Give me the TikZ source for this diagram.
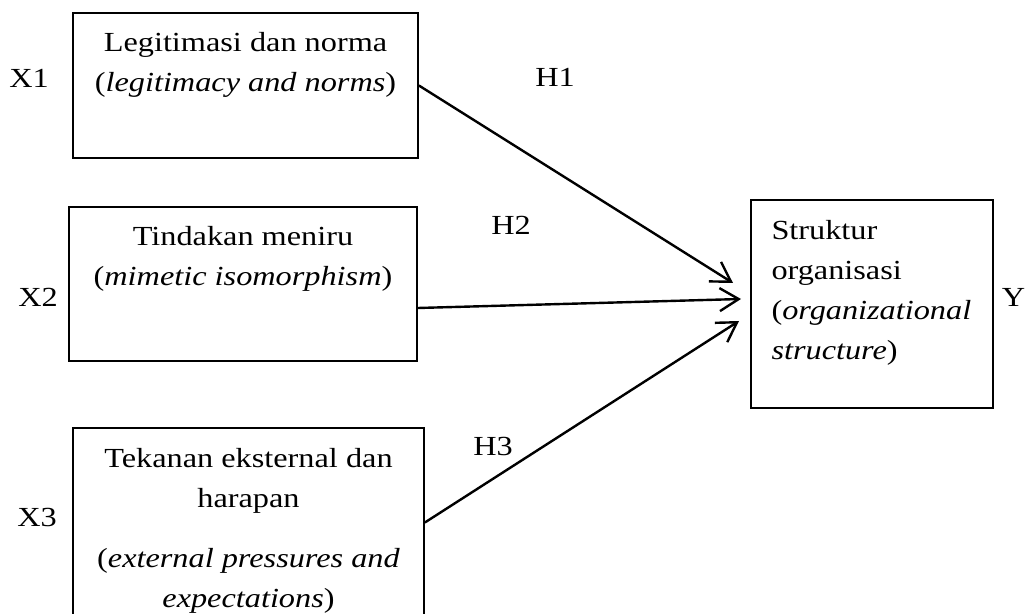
\documentclass[tikz,border=0pt]{standalone}
\usepackage{fontspec}
\setmainfont{Liberation Serif}[FakeStretch=1.17]
\usepackage{tikz}
\usetikzlibrary{positioning, arrows.meta}
\tikzset{VarBox/.style={%
    shape=rectangle,%
    draw=black,%
    line width=0.9pt,%
    inner sep=0pt,%
}}
\tikzset{BoxText/.style={%
    inner sep=0pt,%
    align=center,%
    font=\fontsize{13.8pt}{20pt}\selectfont,%
}}
\tikzset{VarLabel/.style={%
    inner sep=0pt,%
    anchor=base,%
    font=\fontsize{13.8pt}{20pt}\selectfont,%
}}
\tikzset{HypArrow/.style={%
    -{Straight Barb[length=9.5pt,width=11.5pt]},%
    line width=1.2pt,%
}}

\begin{document}
\begin{tikzpicture}[x=0.5pt, y=-0.5pt]
    \useasboundingbox (0,0) rectangle (1030,614);
    \clip (0,0) rectangle (1030,614);

    \node[VarBox, minimum width=172.5pt, minimum height=72.5pt] (b1) at (245.5,85.5) {};
    \node[VarBox, minimum width=174pt, minimum height=77pt] (b2) at (243,284) {};
    \node[VarBox, minimum width=175.5pt, minimum height=94.5pt] (b3) at (248.5,522.5) {};
    \node[VarBox, minimum width=121pt, minimum height=104pt] (bY) at (872,304) {};

    \node[BoxText, below=10pt of b1.north] (t1) {Legitimasi dan norma\\(\textit{legitimacy and norms})};
    \node[BoxText, below=10pt of b2.north] (t2) {Tindakan meniru\\(\textit{mimetic isomorphism})};
    \node[BoxText, below=10.5pt of b3.north] (t3) {Tekanan eksternal dan\\harapan\\[10pt](\textit{external pressures and}\\\textit{expectations})};
    \node[BoxText, align=left, below right=10.5pt and 10.5pt of bY.north west] (tY) {Struktur\\organisasi\\(\textit{organizational}\\\textit{structure})};

    \node[VarLabel] (x1) at (29,88) {X1};
    \node[VarLabel] (x2) at (38,307) {X2};
    \node[VarLabel] (x3) at (37,527) {X3};
    \node[VarLabel] (y) at (1013.5,307) {Y};
    \node[VarLabel] (l1) at (555,87) {H1};
    \node[VarLabel] (l2) at (511,235) {H2};
    \node[VarLabel] (l3) at (493,456) {H3};

    \coordinate (h1) at (733,283);
    \coordinate (h2) at (741,299);
    \coordinate (h3) at (739,321);

    \draw[HypArrow] (b1.east) -- (h1);
    \draw[HypArrow] ([yshift=-12pt]b2.east) -- (h2);
    \draw[HypArrow] (b3.east) -- (h3);
\end{tikzpicture}
\end{document}
